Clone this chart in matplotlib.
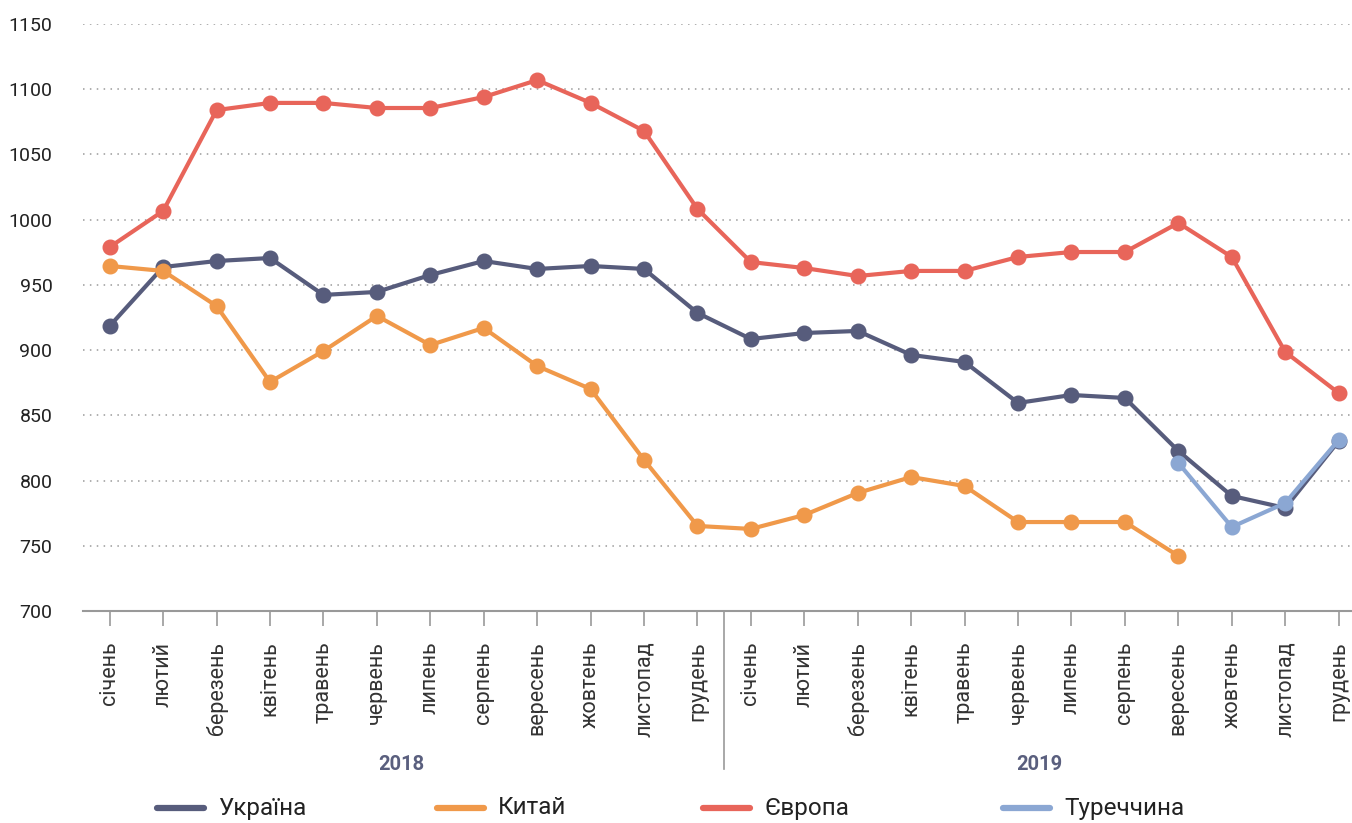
import matplotlib
matplotlib.use("Agg")
import matplotlib.pyplot as plt
from matplotlib.lines import Line2D

months = ["січень", "лютий", "березень", "квітень", "травень", "червень",
          "липень", "серпень", "вересень", "жовтень", "листопад", "грудень"]
labels = months * 2
years = ["2018", "2019"]

ukraine = [918.5, 963.7, 968.3, 970.6, 942.3, 944.6, 957.6, 968.3, 962.2, 964.5, 962.2, 928.5,
           908.5, 913.1, 914.7, 896.3, 890.9, 859.5, 865.6, 863.3, 822.7, 788.2, 779.0, 830.3]
china = [964.5, 960.7, 933.8, 875.6, 899.3, 926.2, 903.9, 917.0, 887.8, 870.2, 815.8, 765.2,
         762.9, 773.6, 790.5, 802.7, 795.8, 768.2, 768.2, 768.2, 742.2]
europe = [979.0, 1006.7, 1084.0, 1089.5, 1089.5, 1085.6, 1085.6, 1094.0, 1107.0, 1089.5, 1068.0, 1008.2,
          967.5, 962.9, 956.8, 960.7, 960.7, 971.4, 975.2, 975.2, 997.5, 971.4, 898.6, 867.1]
turkey = [813.5, 764.4, 782.8, 831.1]
turkey_start = 20

series = [("Україна", ukraine, 0, "#575c7c"),
          ("Китай", china, 0, "#f0994a"),
          ("Європа", europe, 0, "#e8655a"),
          ("Туреччина", turkey, turkey_start, "#8ba7d3")]

plt.rcParams["font.family"] = ["Roboto", "DejaVu Sans"]

W, H = 1352, 823
fig = plt.figure(figsize=(W / 100, H / 100), dpi=100)
ax = fig.add_axes([83 / W, 1 - 611 / H, 1 - 83 / W, (611 - 24) / H])

for name, vals, start, color in series:
    xs = list(range(start, start + len(vals)))
    ax.plot(xs, vals, color=color, lw=3, marker="o", ms=10.5,
            solid_capstyle="round", label=name, zorder=3)

ax.set_ylim(700, 1150)
ax.set_xlim(-0.5, 23.25)
ax.set_yticks(range(700, 1151, 50))
ax.yaxis.grid(True, linestyle=(0, (1, 3.5)), color="#9a9a9a", lw=1.1)
ax.tick_params(axis="y", length=0, pad=22, labelsize=14, colors="#222222")

ax.set_xticks(range(len(labels)))
ax.set_xticklabels(labels, rotation=90, fontsize=15.5, color="#333333")
ax.tick_params(axis="x", length=11, width=1.2, color="#999999", pad=11)

for side in ["top", "right", "left"]:
    ax.spines[side].set_visible(False)
ax.spines["bottom"].set_color("#999999")
ax.spines["bottom"].set_linewidth(1.5)

# divider between the two years
ax.add_line(Line2D([11.5, 11.5], [0, -0.27], transform=ax.get_xaxis_transform(),
                   color="#999999", lw=1.2, clip_on=False))
for i, yr in enumerate(years):
    ax.text(5.45 + 11.95 * i, -0.262, yr, transform=ax.get_xaxis_transform(),
            ha="center", va="center", fontsize=14.5, fontweight="bold", color="#5a5f7e")

# legend laid out by hand along the bottom
legend_x = [157, 437, 703, 1003]
for (name, _, _, color), x0 in zip(series, legend_x):
    fig.add_artist(Line2D([x0 / W, (x0 + 47) / W], [1 - 808 / H] * 2, color=color,
                          lw=4.5, solid_capstyle="round"))
    fig.text((x0 + 61) / W, 1 - 808 / H, name, ha="left", va="center",
             fontsize=17.5, color="#222222")

fig.savefig("out.png", dpi=100)
